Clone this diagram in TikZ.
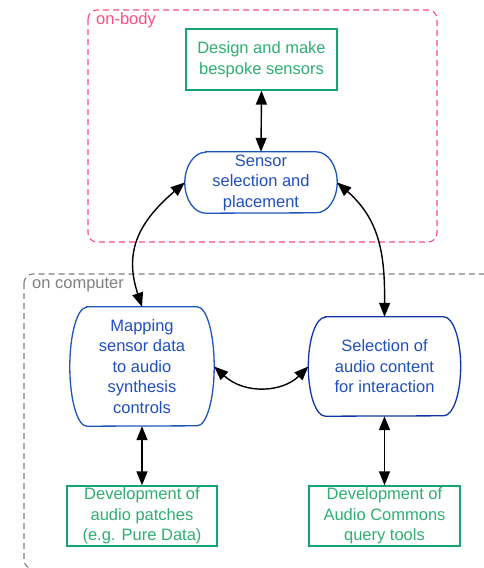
\documentclass[tikz,border=0pt]{standalone}
\usepackage{fontspec}
\setmainfont{Liberation Sans}
\usetikzlibrary{arrows.meta}
\definecolor{pinkc}{HTML}{FF4D7D}
\definecolor{grayc}{HTML}{808080}
\definecolor{bluec}{HTML}{1D55B8}
\definecolor{bluedark}{HTML}{1035A8}
\definecolor{bluetxt}{HTML}{1F4FBF}
\definecolor{greenc}{HTML}{15A572}
\definecolor{greentxt}{HTML}{2EAE72}
\newcommand\termshape[4]{% name, x radius, half height, colour
  \draw[#4, line width=1.3pt] ([xshift=#2]#1.north west) -- ([xshift=-#2]#1.north east)
    arc[start angle=90, end angle=-90, x radius=#2, y radius=#3]
    -- ([xshift=#2]#1.south west)
    arc[start angle=270, end angle=90, x radius=#2, y radius=#3] -- cycle;}
\begin{document}
\begin{tikzpicture}[x=1pt,y=-1pt,
  txt/.style={font=\fontsize{16.5}{20.5}\selectfont, align=center, inner sep=0pt},
  greenbox/.style={txt, draw=greenc, line width=1.3pt, text=greentxt},
  termnode/.style={txt, text=bluetxt},
  zone/.style={line width=1.1pt, dash pattern=on 6pt off 4pt, rounded corners=9pt},
  zonelabel/.style={font=\fontsize{16.5}{20}\selectfont, anchor=west, inner sep=0pt},
  arr/.style={{Triangle[length=14pt,width=11pt]}-{Triangle[length=14pt,width=11pt]}, line width=1.4pt}]
\useasboundingbox (0,0) rectangle (484,568);
% zones
\draw[zone, pinkc] (88,10) rectangle (437,242);
\node[zonelabel, text=pinkc] (onbody) at (96,20) {on-body};
\begin{scope}
  \clip (0,0) rectangle (484,568);
  \draw[zone, grayc] (24,274) rectangle (540,568.8);
\end{scope}
\node[zonelabel, text=grayc] (oncomp) at (32,285) {on computer};
% nodes
\node[greenbox, minimum width=151pt, minimum height=61pt] (design) at (261.5,59.5) {Design and make\\bespoke sensors};
\node[termnode, minimum width=152pt, minimum height=61pt] (sensor) at (261,182.5) {Sensor\\selection and\\placement};
\termshape{sensor}{21pt}{30.5pt}{bluec}
\node[termnode, minimum width=144pt, minimum height=119pt] (mapping) at (142,366.5) {Mapping\\sensor data\\to audio\\synthesis\\controls};
\termshape{mapping}{17pt}{59.5pt}{bluec}
\node[termnode, minimum width=152pt, minimum height=99pt] (selection) at (384.5,366.5) {Selection of\\audio content\\for interaction};
\termshape{selection}{17pt}{49.5pt}{bluedark}
\node[greenbox, minimum width=150pt, minimum height=60pt] (devpatch) at (142,516) {Development of\\audio patches\\(e.g. Pure Data)};
\node[greenbox, minimum width=151pt, minimum height=60pt] (devac) at (384.5,516) {Development of\\Audio Commons\\query tools};
% connectors
\draw[arr] (design.south) -- (sensor.north);
\draw[arr] (sensor.west) .. controls (135,225) and (125,255) .. (mapping.north);
\draw[arr] (sensor.east) .. controls (380,220) and (385,255) .. (selection.north);
\draw[arr] (mapping.east) .. controls (245,395) and (283,392) .. (selection.west);
\draw[arr] (mapping.south) -- (devpatch.north);
\draw[arr] (selection.south) -- (devac.north);
\end{tikzpicture}
\end{document}
